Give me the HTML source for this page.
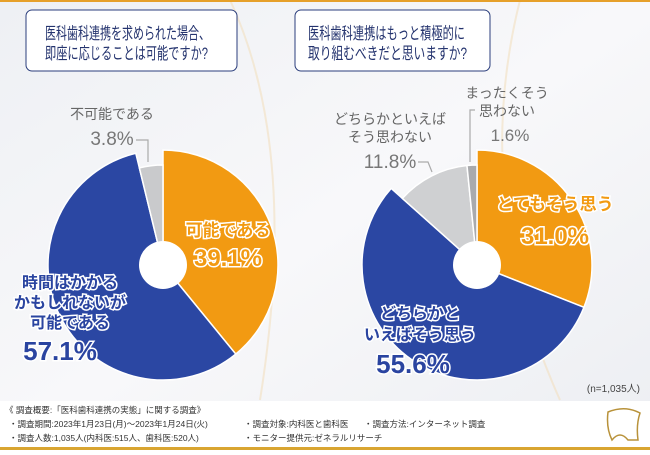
<!DOCTYPE html>
<html><head><meta charset="utf-8"><style>
body{margin:0;width:650px;height:450px;overflow:hidden;font-family:"Liberation Sans","Noto Sans CJK JP",sans-serif;}
svg text{font-family:"Liberation Sans","Noto Sans CJK JP",sans-serif;}
</style></head><body>
<svg id="c" width="650" height="450" viewBox="0 0 650 450" xmlns="http://www.w3.org/2000/svg">
<defs><linearGradient id="bg" x1="0" y1="0" x2="1" y2="1"><stop offset="0" stop-color="#eef0f4"/><stop offset="0.5" stop-color="#f8f8fa"/><stop offset="1" stop-color="#eceef2"/></linearGradient></defs>
<rect x="0" y="0" width="650" height="450" fill="url(#bg)"/>
<path d="M230 0 Q300 150 260 400" stroke="#f1dfc0" stroke-width="2" fill="none" opacity="0.6"/>
<path d="M520 0 Q470 200 560 400" stroke="#f1dfc0" stroke-width="2" fill="none" opacity="0.6"/>
<rect x="0" y="0" width="650" height="2" fill="#e6a02a"/>
<g>
<rect x="26" y="10" width="211" height="61" rx="6" fill="#fff" stroke="#2b3e7c" stroke-width="1"/>
<text x="45" y="39" font-size="16.5" textLength="165" lengthAdjust="spacingAndGlyphs" fill="#24336e">医科歯科連携を求められた場合、</text>
<text x="45" y="59" font-size="16.5" textLength="163" lengthAdjust="spacingAndGlyphs" fill="#24336e">即座に応じることは可能ですか?</text>
</g>
<g>
<rect x="295" y="10" width="195" height="61" rx="6" fill="#fff" stroke="#2b3e7c" stroke-width="1"/>
<text x="308" y="39" font-size="16.5" textLength="157" lengthAdjust="spacingAndGlyphs" fill="#24336e">医科歯科連携はもっと積極的に</text>
<text x="308" y="59" font-size="16.5" textLength="159" lengthAdjust="spacingAndGlyphs" fill="#24336e">取り組むべきだと思いますか?</text>
</g>
<g id="pies"></g>
<g font-weight="bold">
<text x="112" y="119" text-anchor="middle" font-size="14" fill="#666" font-weight="normal">不可能である</text>
<text x="112" y="145" text-anchor="middle" font-size="19" fill="#777" font-weight="normal">3.8%</text>
<polyline points="136,140 148,140 148,162" fill="none" stroke="#aaa" stroke-width="1.2"/>
<text x="228" y="236" text-anchor="middle" font-size="17" fill="#f29a12" stroke="#fff" stroke-width="3" paint-order="stroke">可能である</text>
<text x="228" y="266" text-anchor="middle" font-size="24" fill="#f29a12" stroke="#fff" stroke-width="3" paint-order="stroke">39.1%</text>
<text x="70" y="288" text-anchor="middle" font-size="16" fill="#2a44a0" stroke="#fff" stroke-width="3" paint-order="stroke">時間はかかる</text>
<text x="70" y="308" text-anchor="middle" font-size="16" fill="#2a44a0" stroke="#fff" stroke-width="3" paint-order="stroke">かもしれないが</text>
<text x="70" y="328" text-anchor="middle" font-size="16" fill="#2a44a0" stroke="#fff" stroke-width="3" paint-order="stroke">可能である</text>
<text x="60" y="360" text-anchor="middle" font-size="26" fill="#2a44a0" stroke="#fff" stroke-width="3" paint-order="stroke">57.1%</text>
</g>
<g font-weight="bold">
<text x="507" y="98" text-anchor="middle" font-size="14" fill="#666" font-weight="normal">まったくそう</text>
<text x="507" y="116" text-anchor="middle" font-size="14" fill="#666" font-weight="normal">思わない</text>
<text x="510" y="141" text-anchor="middle" font-size="17" fill="#777" font-weight="normal">1.6%</text>
<polyline points="475,110 470,110 470,162" fill="none" stroke="#aaa" stroke-width="1.2"/>
<text x="390" y="124" text-anchor="middle" font-size="14" fill="#666" font-weight="normal">どちらかといえば</text>
<text x="390" y="142" text-anchor="middle" font-size="14" fill="#666" font-weight="normal">そう思わない</text>
<text x="390" y="168" text-anchor="middle" font-size="19" fill="#777" font-weight="normal">11.8%</text>
<polyline points="418,162 428,162 432,172" fill="none" stroke="#aaa" stroke-width="1.2"/>
<text x="555" y="210" text-anchor="middle" font-size="17" fill="#f29a12" stroke="#fff" stroke-width="3" paint-order="stroke">とてもそう思う</text>
<text x="555" y="244" text-anchor="middle" font-size="24" fill="#f29a12" stroke="#fff" stroke-width="3" paint-order="stroke">31.0%</text>
<text x="420" y="319" text-anchor="middle" font-size="16" fill="#2a44a0" stroke="#fff" stroke-width="3" paint-order="stroke">どちらかと</text>
<text x="420" y="340" text-anchor="middle" font-size="16" fill="#2a44a0" stroke="#fff" stroke-width="3" paint-order="stroke">いえばそう思う</text>
<text x="413" y="373" text-anchor="middle" font-size="26" fill="#2a44a0" stroke="#fff" stroke-width="3" paint-order="stroke">55.6%</text>
</g>
<text x="640" y="392" text-anchor="end" font-size="10" fill="#444">(n=1,035人)</text>
<rect x="0" y="401" width="650" height="47" fill="#fff"/>
<rect x="0" y="447" width="650" height="3" fill="#d9a531"/>
<g font-size="8.5" fill="#333">
<text x="5" y="413">《 調査概要:「医科歯科連携の実態」に関する調査》</text>
<text x="9" y="427">・調査期間:2023年1月23日(月)〜2023年1月24日(火)</text>
<text x="9" y="441">・調査人数:1,035人(内科医:515人、歯科医:520人)</text>
<text x="244" y="427">・調査対象:内科医と歯科医</text>
<text x="244" y="441">・モニター提供元:ゼネラルリサーチ</text>
<text x="364" y="427">・調査方法:インターネット調査</text>
</g>
<path d="M608 412 Q625 405 640 413 Q636 425 638 440 L628 440 Q620 430 612 440 Q606 428 608 412Z" fill="none" stroke="#b8923a" stroke-width="1.5"/>
</svg>
<script>
const leftCats=["可能である","時間はかかるかもしれないが可能である","不可能である"];
const leftVals=[39.1,57.1,3.8];
const rightCats=["とてもそう思う","どちらかといえばそう思う","どちらかといえばそう思わない","まったくそう思わない"];
const rightVals=[31.0,55.6,11.8,1.6];
const leftColors=["#f29a12","#2b47a3","#c9cacc"];
const rightColors=["#f29a12","#2b47a3","#cfd0d2","#a9aaad"];
const leftRadii=[115,115,100];
const rightRadii=[115,115,100,100];
const NS="http://www.w3.org/2000/svg";
const g=document.getElementById('pies');
function pt(cx,cy,r,a){return [cx+r*Math.sin(a),cy-r*Math.cos(a)];}
function drawPie(cx,cy,vals,colors,radii,prefix){
  const total=vals.reduce((a,b)=>a+b,0);let a0=0;
  vals.forEach((v,i)=>{
    const a1=a0+v/total*2*Math.PI;const r=radii[i];
    const p0=pt(cx,cy,r,a0),p1=pt(cx,cy,r,a1);
    const large=(a1-a0)>Math.PI?1:0;
    const p=document.createElementNS(NS,'path');
    p.setAttribute('d',`M${cx},${cy} L${p0[0]},${p0[1]} A${r},${r} 0 ${large} 1 ${p1[0]},${p1[1]} Z`);
    p.setAttribute('fill',colors[i]);p.setAttribute('stroke','#fff');p.setAttribute('stroke-width','1.5');
    
    
    g.appendChild(p);a0=a1;
  });
  const h=document.createElementNS(NS,'circle');
  h.setAttribute('cx',cx);h.setAttribute('cy',cy);h.setAttribute('r',24);h.setAttribute('fill','#fff');
  
  
  g.appendChild(h);
}
drawPie(163,265,leftVals,leftColors,leftRadii,'left-pie');
drawPie(477,265,rightVals,rightColors,rightRadii,'right-pie');
</script>
</body></html>
